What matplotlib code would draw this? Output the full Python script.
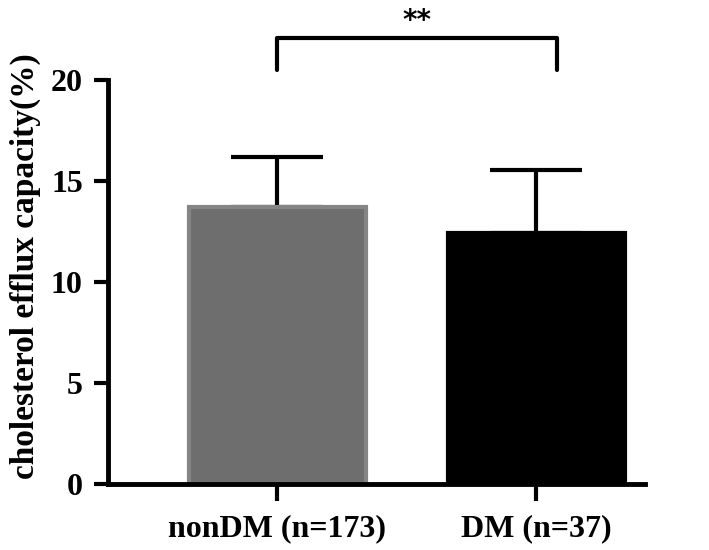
import matplotlib.pyplot as plt

groups = ["nonDM (n=173)", "DM (n=37)"]
means = [13.7, 12.42]
sd_upper = [2.5, 3.1]
bar_colors = ["#6e6e6e", "#000000"]
edge_colors = ["#858585", "#000000"]
yticks = [0, 5, 10, 15, 20]
sig_label = "**"


def main():
    plt.rcParams["font.family"] = ["Liberation Serif", "DejaVu Serif"]
    plt.rcParams["font.weight"] = "bold"

    fig = plt.figure(figsize=(7.09, 5.5), dpi=100)
    ax = fig.add_axes([0.152, 0.12, 0.758, 0.735])

    x = list(range(len(groups)))
    ax.bar(x, means, width=0.683, color=bar_colors, edgecolor=edge_colors,
           linewidth=3, zorder=2)
    ax.errorbar(x, means, yerr=[[0, 0], sd_upper], fmt="none", ecolor="black",
                elinewidth=3, capsize=33, capthick=3, zorder=1)

    ax.set_xlim(-0.653, 1.42)
    ax.set_ylim(0, 20)
    ax.set_yticks(yticks)
    ax.set_xticks(x)
    ax.set_xticklabels(groups, fontsize=23, fontweight="bold")
    ax.tick_params(axis="y", labelsize=23, width=3, length=10, pad=8)
    ax.tick_params(axis="x", width=3, length=12, pad=10)
    for lbl in ax.get_yticklabels():
        lbl.set_fontweight("bold")

    ax.spines["top"].set_visible(False)
    ax.spines["right"].set_visible(False)
    ax.spines["left"].set_linewidth(3.5)
    ax.spines["bottom"].set_linewidth(3.5)

    ax.set_ylabel("cholesterol efflux capacity(%)", fontsize=24,
                  fontweight="bold")
    ax.yaxis.set_label_coords(-0.125, 0.54)

    # significance bracket
    top = 22.05
    x_right = 1.08
    ax.plot([x[0], x[0], x_right, x_right], [20.5, top, top, 20.5],
            color="black", lw=3, clip_on=False, solid_capstyle="round")
    ax.text((x[0] + x_right) / 2, 22.9, sig_label, ha="center",
            va="center", fontsize=20, family="DejaVu Sans", clip_on=False)

    fig.savefig("out.png", dpi=100)


if __name__ == "__main__":
    main()
